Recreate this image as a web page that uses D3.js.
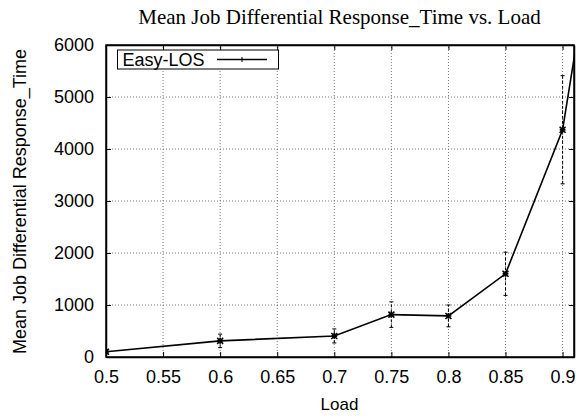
<!DOCTYPE html>
<html><head><meta charset="utf-8">
<script src="https://cdn.jsdelivr.net/npm/d3@7"></script>
<style>body{margin:0;background:#fff}svg{display:block}</style>
</head><body>
<script>
const loads = [0.5, 0.6, 0.7, 0.75, 0.8, 0.85, 0.9, 0.95];
const means = [100, 310, 405, 815, 790, 1600, 4370, 11200];
const errs  = [40, 130, 135, 245, 210, 415, 1040, 0];
const xTicks = [0.5, 0.55, 0.6, 0.65, 0.7, 0.75, 0.8, 0.85, 0.9];
const yTicks = [0, 1000, 2000, 3000, 4000, 5000, 6000];
const seriesName = "Easy-LOS";

const W = 580, H = 418;
const m = {l:106, r:6, t:45, b:61};
const svg = d3.select("body").append("svg").attr("width", W).attr("height", H);
const x = d3.scaleLinear().domain([0.5, 0.91]).range([m.l, W - m.r]);
const y = d3.scaleLinear().domain([0, 6000]).range([H - m.b, m.t]);

svg.append("defs").append("clipPath").attr("id","clip")
  .append("rect").attr("x", m.l).attr("y", m.t).attr("width", W-m.r-m.l).attr("height", H-m.b-m.t);

// grid
const g = svg.append("g");
g.selectAll(".gx").data(xTicks.slice(1)).join("line")
  .attr("x1", d=>x(d)).attr("x2", d=>x(d)).attr("y1", y(0)).attr("y2", y(6000))
  .attr("stroke","#555").attr("stroke-width",0.8).attr("stroke-dasharray","1,2");
g.selectAll(".gy").data(yTicks.slice(1,-1)).join("line")
  .attr("y1", d=>y(d)).attr("y2", d=>y(d)).attr("x1", x(0.5)).attr("x2", x(0.91))
  .attr("stroke","#555").attr("stroke-width",0.8).attr("stroke-dasharray","1,2");

// axes
const font = "'Liberation Sans', Arial, sans-serif";
const xa = svg.append("g").attr("transform",`translate(0,${y(0)})`)
  .call(d3.axisBottom(x).tickValues(xTicks).tickSizeInner(-5).tickSizeOuter(0).tickPadding(13).tickFormat(d3.format("")));
const ya = svg.append("g").attr("transform",`translate(${x(0.5)},0)`)
  .call(d3.axisLeft(y).tickValues(yTicks).tickSizeInner(-5).tickSizeOuter(0).tickPadding(12).tickFormat(d3.format("")));
const xt = svg.append("g").attr("transform",`translate(0,${y(6000)})`)
  .call(d3.axisTop(x).tickValues(xTicks).tickSizeInner(-5).tickSizeOuter(0).tickFormat(""));
const yr = svg.append("g").attr("transform",`translate(${x(0.91)},0)`)
  .call(d3.axisRight(y).tickValues(yTicks).tickSizeInner(-5).tickSizeOuter(0).tickFormat(""));
[xa,ya,xt,yr].forEach(a=>{
  a.selectAll("path").attr("stroke","#000").attr("stroke-width",1.5);
  a.selectAll("line").attr("stroke","#000");
  a.selectAll("text").attr("font-family",font).attr("font-size",18).attr("fill","#000");
});
xa.selectAll("text").attr("dy","0.71em");

// border
svg.append("rect").attr("x", m.l).attr("y", m.t).attr("width", W-m.r-m.l).attr("height", H-m.b-m.t)
  .attr("fill","none").attr("stroke","#000").attr("stroke-width",1.5);

// data
const data = loads.map((l,i)=>({l, v:means[i], e:errs[i]}));
const pg = svg.append("g").attr("clip-path","url(#clip)");
pg.selectAll(".eb").data(data.filter(d=>d.e>0)).join("line")
  .attr("x1", d=>x(d.l)).attr("x2", d=>x(d.l)).attr("y1", d=>y(d.v-d.e)).attr("y2", d=>y(d.v+d.e))
  .attr("stroke","#000").attr("stroke-width",1).attr("stroke-dasharray","3,2");
pg.selectAll(".ebt").data(data.filter(d=>d.e>0).flatMap(d=>[{l:d.l,v:d.v-d.e},{l:d.l,v:d.v+d.e}])).join("line")
  .attr("x1", d=>x(d.l)-2).attr("x2", d=>x(d.l)+2).attr("y1", d=>y(d.v)).attr("y2", d=>y(d.v))
  .attr("stroke","#000").attr("stroke-width",1);
pg.append("path").datum(data)
  .attr("d", d3.line().x(d=>x(d.l)).y(d=>y(d.v)))
  .attr("fill","none").attr("stroke","#000").attr("stroke-width",1.6);
pg.selectAll(".pt").data(data).join("path")
  .attr("transform", d=>`translate(${x(d.l)},${y(d.v)})`)
  .attr("d", d3.symbol().type(d3.symbolTimes).size(25))
  .attr("stroke","#000").attr("stroke-width",1.5).attr("fill","none");
pg.selectAll(".pt2").data(data).join("path")
  .attr("transform", d=>`translate(${x(d.l)},${y(d.v)})`)
  .attr("d", d3.symbol().type(d3.symbolCross).size(18))
  .attr("fill","#000");

// legend
const lg = svg.append("g");
lg.append("rect").attr("x",117.5).attr("y",50).attr("width",161).attr("height",19)
  .attr("fill","#fff").attr("stroke","#000").attr("stroke-width",1);
lg.append("text").attr("x",122.5).attr("y",66).text(seriesName)
  .attr("font-family",font).attr("font-size",18);
lg.append("line").attr("x1",217).attr("x2",267).attr("y1",59.5).attr("y2",59.5)
  .attr("stroke","#000").attr("stroke-width",1.6);
lg.append("line").attr("x1",242).attr("x2",242).attr("y1",57).attr("y2",62)
  .attr("stroke","#000").attr("stroke-width",1);

// titles
svg.append("text").attr("x",339.5).attr("y",24).attr("text-anchor","middle")
  .attr("font-family","'Liberation Serif','Times New Roman',serif").attr("font-size",21)
  .text("Mean Job Differential Response_Time vs. Load");
svg.append("text").attr("x",339.5).attr("y",410).attr("text-anchor","middle")
  .attr("font-family",font).attr("font-size",17).text("Load");
svg.append("text").attr("transform",`translate(26,201.5) rotate(-90)`)
  .attr("text-anchor","middle").attr("font-family",font).attr("font-size",18)
  .text("Mean Job Differential Response_Time");
</script>
</body></html>
